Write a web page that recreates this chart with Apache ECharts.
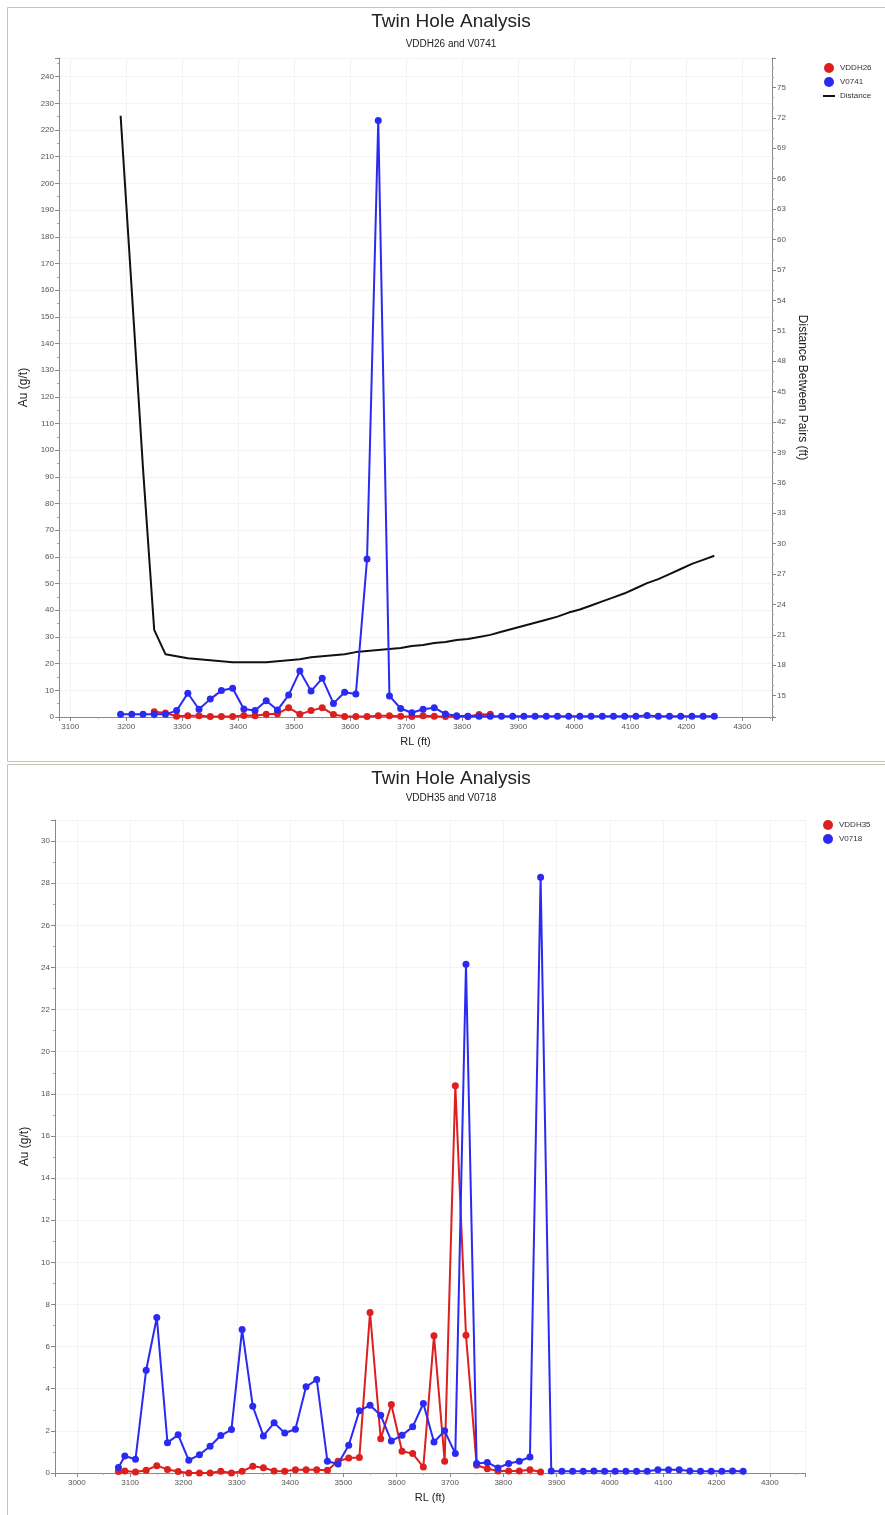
<!DOCTYPE html>
<html><head><meta charset="utf-8">
<script src="https://cdn.jsdelivr.net/npm/echarts@6/dist/echarts.min.js"></script>
<style>html,body{margin:0;padding:0;background:#fff}#c{width:885px;height:1515px}</style>
</head><body><div id="c"></div>
<script>
// ---------- Chart 1: VDDH26 and V0741 ----------
const rlVDDH26 = [3250,3270,3290,3310,3330,3350,3370,3390,3410,3430,3450,3470,3490,3510,3530,3550,3570,3590,3610,3630,3650,3670,3690,3710,3730,3750,3770,3790,3810,3830,3850];
const auVDDH26 = [2.0,1.5,0.3,0.5,0.5,0.2,0.2,0.2,0.6,0.5,1.0,1.2,3.5,1.0,2.4,3.5,0.9,0.2,0.2,0.2,0.5,0.5,0.3,0.2,0.5,0.3,0.2,0.2,0.2,0.9,1.0];
const rlV0741 = [3190,3210,3230,3250,3270,3290,3310,3330,3350,3370,3390,3410,3430,3450,3470,3490,3510,3530,3550,3570,3590,3610,3630,3650,3670,3690,3710,3730,3750,3770,3790,3810,3830,3850,3870,3890,3910,3930,3950,3970,3990,4010,4030,4050,4070,4090,4110,4130,4150,4170,4190,4210,4230,4250];
const auV0741 = [1.0,1.0,1.0,1.0,1.0,2.4,8.9,2.9,6.7,9.9,10.8,3.0,2.4,6.1,2.6,8.2,17.2,9.7,14.5,5.1,9.3,8.6,59.2,223.6,7.9,3.2,1.6,2.9,3.5,1.1,0.5,0.3,0.3,0.3,0.3,0.3,0.3,0.3,0.3,0.3,0.3,0.3,0.3,0.3,0.3,0.3,0.3,0.6,0.3,0.3,0.3,0.3,0.3,0.3];
const rlDistance = [3190,3210,3230,3250,3270,3290,3310,3330,3350,3370,3390,3410,3430,3450,3470,3490,3510,3530,3550,3570,3590,3610,3630,3650,3670,3690,3710,3730,3750,3770,3790,3810,3830,3850,3870,3890,3910,3930,3950,3970,3990,4010,4030,4050,4070,4090,4110,4130,4150,4170,4190,4210,4230,4250];
const distance = [72.2,54.9,37.4,21.5,19.1,18.9,18.7,18.6,18.5,18.4,18.3,18.3,18.3,18.3,18.4,18.5,18.6,18.8,18.9,19.0,19.1,19.3,19.4,19.5,19.6,19.7,19.9,20.0,20.2,20.3,20.5,20.6,20.8,21.0,21.3,21.6,21.9,22.2,22.5,22.8,23.2,23.5,23.9,24.3,24.7,25.1,25.6,26.1,26.5,27.0,27.5,28.0,28.4,28.8];

// ---------- Chart 2: VDDH35 and V0718 ----------
const rlVDDH35 = [3078,3090,3110,3130,3150,3170,3190,3210,3230,3250,3270,3290,3310,3330,3350,3370,3390,3410,3430,3450,3470,3490,3510,3530,3550,3570,3590,3610,3630,3650,3670,3690,3710,3730,3750,3770,3790,3810,3830,3850,3870];
const auVDDH35 = [0.07,0.10,0.05,0.13,0.35,0.17,0.07,0.0,0.0,0.0,0.08,0.0,0.08,0.32,0.25,0.10,0.08,0.16,0.16,0.16,0.13,0.56,0.71,0.73,7.62,1.63,3.25,1.03,0.92,0.28,6.51,0.56,18.38,6.54,0.37,0.20,0.10,0.10,0.10,0.15,0.05];
const rlV0718 = [3078,3090,3110,3130,3150,3170,3190,3210,3230,3250,3270,3290,3310,3330,3350,3370,3390,3410,3430,3450,3470,3490,3510,3530,3550,3570,3590,3610,3630,3650,3670,3690,3710,3730,3750,3770,3790,3810,3830,3850,3870,3890,3910,3930,3950,3970,3990,4010,4030,4050,4070,4090,4110,4130,4150,4170,4190,4210,4230,4250];
const auV0718 = [0.26,0.81,0.65,4.88,7.38,1.44,1.81,0.60,0.87,1.27,1.78,2.06,6.81,3.17,1.76,2.38,1.90,2.08,4.09,4.44,0.56,0.43,1.32,2.95,3.22,2.74,1.52,1.79,2.19,3.30,1.47,2.00,0.92,24.15,0.45,0.50,0.24,0.45,0.56,0.76,28.28,0.10,0.08,0.08,0.08,0.10,0.08,0.08,0.08,0.08,0.08,0.15,0.15,0.15,0.10,0.08,0.08,0.08,0.10,0.08];

const RED = '#dd1f1f', BLUE = '#2a2af2', BLACK = '#111111';
const FONT = 'Liberation Sans, Arial, sans-serif';
const pairs = (xs, ys) => xs.map((x, i) => [x, ys[i]]);
const plain = v => String(v);

const chart = echarts.init(document.getElementById('c'), null, {renderer: 'canvas'});

function xAxisCfg(grid, min, max, split) {
  return {
    gridIndex: grid, type: 'value', min: min, max: max, splitNumber: split,
    name: 'RL (ft)', nameLocation: 'middle', nameGap: 19,
    nameTextStyle: {fontSize: 11, color: '#222', fontFamily: FONT},
    axisLine: {show: true, lineStyle: {color: '#888', width: 1}},
    axisTick: {show: true, length: 4, lineStyle: {color: '#888'}},
    minorTick: {show: true, splitNumber: 2, length: 2, lineStyle: {color: '#aaa'}},
    axisLabel: {fontSize: 8, color: '#555', margin: 6, showMinLabel: false, showMaxLabel: false, fontFamily: FONT, formatter: plain},
    splitLine: {show: true, lineStyle: {color: '#f3f3f3'}}
  };
}
function yAxisCfg(grid, min, max, interval, gap) {
  return {
    gridIndex: grid, type: 'value', min: min, max: max, interval: interval,
    name: 'Au (g/t)', nameLocation: 'middle', nameGap: gap,
    nameTextStyle: {fontSize: 12, color: '#222', fontFamily: FONT},
    axisLine: {show: true, lineStyle: {color: '#888', width: 1}},
    axisTick: {show: true, length: 4, lineStyle: {color: '#888'}},
    minorTick: {show: true, splitNumber: 2, length: 2, lineStyle: {color: '#aaa'}},
    axisLabel: {fontSize: 8, color: '#555', margin: 5, showMaxLabel: false, fontFamily: FONT, formatter: plain},
    splitLine: {show: true, lineStyle: {color: '#f3f3f3'}}
  };
}

const LINE_ICON = 'path://M0,0 M0,4 L12,4 L12,6 L0,6 Z M12,10';

const option = {
  animation: false,
  backgroundColor: '#ffffff',
  textStyle: {fontFamily: FONT},
  graphic: [
    {type: 'rect', silent: true, shape: {x: 7.5, y: 7.5, width: 890, height: 754}, style: {fill: null, stroke: '#c4c4b4', lineWidth: 1}},
    {type: 'rect', silent: true, shape: {x: 7.5, y: 764.5, width: 890, height: 760}, style: {fill: null, stroke: '#c4c4b4', lineWidth: 1}}
  ],
  title: [
    {text: 'Twin Hole Analysis', left: 451, top: 12, textAlign: 'center', padding: 0, textStyle: {fontSize: 19, fontWeight: 'normal', color: '#222', fontFamily: FONT}},
    {text: 'VDDH26 and V0741', left: 451, top: 39, textAlign: 'center', padding: 0, textStyle: {fontSize: 10, fontWeight: 'normal', color: '#222', fontFamily: FONT}},
    {text: 'Twin Hole Analysis', left: 451, top: 769, textAlign: 'center', padding: 0, textStyle: {fontSize: 19, fontWeight: 'normal', color: '#222', fontFamily: FONT}},
    {text: 'VDDH35 and V0718', left: 451, top: 793, textAlign: 'center', padding: 0, textStyle: {fontSize: 10, fontWeight: 'normal', color: '#222', fontFamily: FONT}}
  ],
  legend: [
    {left: 823, top: 63, orient: 'vertical', padding: 0, itemWidth: 12, itemHeight: 10, itemGap: 4,
     textStyle: {fontSize: 8, color: '#333', fontFamily: FONT},
     data: [{name: 'VDDH26', icon: 'circle'}, {name: 'V0741', icon: 'circle'}, {name: 'Distance', icon: LINE_ICON}]},
    {left: 823, top: 820, orient: 'vertical', padding: 0, itemWidth: 12, itemHeight: 10, itemGap: 4,
     textStyle: {fontSize: 8, color: '#333', fontFamily: FONT},
     data: [{name: 'VDDH35', icon: 'circle'}, {name: 'V0718', icon: 'circle'}]}
  ],
  grid: [
    {left: 59, top: 58, width: 713, height: 659, containLabel: false, outerBoundsMode: 'none'},
    {left: 55, top: 820, width: 750, height: 653, containLabel: false, outerBoundsMode: 'none'}
  ],
  xAxis: [
    xAxisCfg(0, 3080, 4353, 13),
    xAxisCfg(1, 2959, 4366, 14)
  ],
  yAxis: [
    yAxisCfg(0, 0, 247, 10, 21),
    {
      gridIndex: 0, type: 'value', position: 'right', min: 12.9, max: 77.9, splitNumber: 20,
      name: 'Distance Between Pairs (ft)', nameLocation: 'middle', nameGap: 18, nameRotate: -90,
      nameTextStyle: {fontSize: 12, color: '#222', fontFamily: FONT},
      axisLine: {show: true, lineStyle: {color: '#888', width: 1}},
      axisTick: {show: true, length: 4, lineStyle: {color: '#888'}},
      minorTick: {show: true, splitNumber: 3, length: 2, lineStyle: {color: '#aaa'}},
      axisLabel: {fontSize: 8, color: '#555', margin: 5, showMinLabel: false, showMaxLabel: false, fontFamily: FONT, formatter: plain},
      splitLine: {show: false}
    },
    yAxisCfg(1, 0, 31, 2, 17)
  ],
  series: [
    {name: 'Distance', type: 'line', xAxisIndex: 0, yAxisIndex: 1, data: pairs(rlDistance, distance),
     symbol: 'none', showSymbol: false, lineStyle: {width: 2, color: BLACK}, itemStyle: {color: BLACK}, z: 2},
    {name: 'VDDH26', type: 'line', xAxisIndex: 0, yAxisIndex: 0, data: pairs(rlVDDH26, auVDDH26),
     symbol: 'circle', symbolSize: 7, lineStyle: {width: 2, color: RED}, itemStyle: {color: RED}, z: 3},
    {name: 'V0741', type: 'line', xAxisIndex: 0, yAxisIndex: 0, data: pairs(rlV0741, auV0741),
     symbol: 'circle', symbolSize: 7, lineStyle: {width: 2, color: BLUE}, itemStyle: {color: BLUE}, z: 4},
    {name: 'VDDH35', type: 'line', xAxisIndex: 1, yAxisIndex: 2, data: pairs(rlVDDH35, auVDDH35),
     symbol: 'circle', symbolSize: 7, lineStyle: {width: 2, color: RED}, itemStyle: {color: RED}, z: 3},
    {name: 'V0718', type: 'line', xAxisIndex: 1, yAxisIndex: 2, data: pairs(rlV0718, auV0718),
     symbol: 'circle', symbolSize: 7, lineStyle: {width: 2, color: BLUE}, itemStyle: {color: BLUE}, z: 4}
  ]
};
chart.setOption(option);
</script>
</body></html>
